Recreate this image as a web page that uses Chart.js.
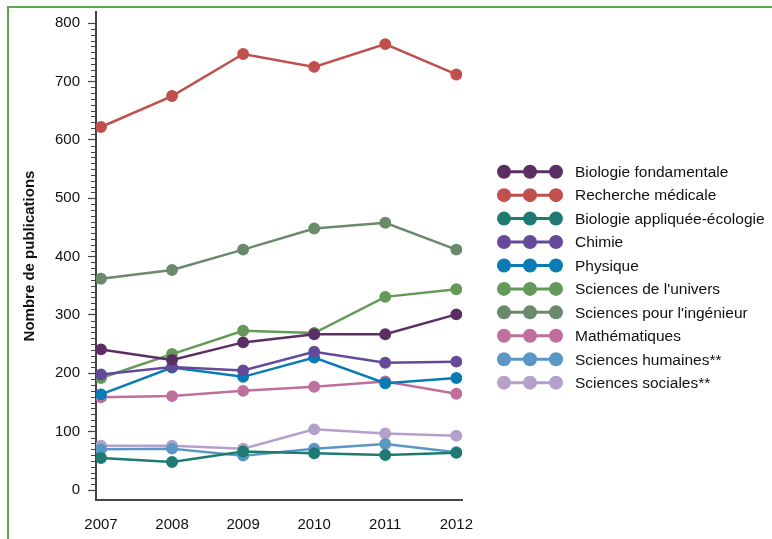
<!DOCTYPE html>
<html lang="fr">
<head>
<meta charset="UTF-8">
<title>Nombre de publications</title>
<script src="https://cdn.jsdelivr.net/npm/chart.js"></script>
<style>
    html, body {
        margin: 0;
        padding: 0;
        background: #ffffff;
        overflow: hidden;
    }
    .frame {
        position: absolute;
        left: 7px;
        top: 6px;
        width: 900px;
        height: 700px;
        border: 2px solid #55ad45;
    }
    .wrap {
        position: absolute;
        left: 0;
        top: 0;
        width: 772px;
        height: 539px;
    }
</style>
</head>
<body>
<div class="frame"></div>
<div class="wrap"><canvas id="chart" width="772" height="539"></canvas></div>

<script>
    const years = [2007, 2008, 2009, 2010, 2011, 2012];

    const seriesNames = [
        "Biologie fondamentale",
        "Recherche médicale",
        "Biologie appliquée-écologie",
        "Chimie",
        "Physique",
        "Sciences de l'univers",
        "Sciences pour l'ingénieur",
        "Mathématiques",
        "Sciences humaines**",
        "Sciences sociales**"
    ];

    const bioFondamentale = [241, 223, 253, 267, 267, 301];
    const rechercheMedicale = [622, 675, 747, 725, 764, 712];
    const bioAppliquee = [55, 48, 66, 63, 60, 64];
    const chimie = [198, 211, 205, 237, 218, 220];
    const physique = [164, 210, 194, 227, 183, 192];
    const sciencesUnivers = [192, 233, 273, 269, 331, 344];
    const sciencesIngenieur = [362, 377, 412, 448, 458, 412];
    const mathematiques = [159, 161, 170, 177, 186, 165];
    const sciencesHumaines = [70, 71, 59, 71, 79, 65];
    const sciencesSociales = [76, 76, 71, 104, 97, 93];

    const yTicks = [0, 100, 200, 300, 400, 500, 600, 700, 800];

    const seriesValues = [
        bioFondamentale, rechercheMedicale, bioAppliquee, chimie, physique,
        sciencesUnivers, sciencesIngenieur, mathematiques, sciencesHumaines, sciencesSociales
    ];

    const colors = [
        '#5b2f63', '#c0504d', '#1f7b72', '#654a9a', '#0a7bb3',
        '#64995a', '#6b8a6c', '#c06f9c', '#5b97c5', '#b3a1cb'
    ];

    const textColor = '#111111';
    const axisColor = '#444444';

    const datasets = seriesNames.map((name, i) => ({
        label: name,
        data: years.map((yr, j) => ({ x: yr, y: seriesValues[i][j] })),
        borderColor: colors[i],
        backgroundColor: colors[i],
        pointBackgroundColor: colors[i],
        pointBorderColor: colors[i],
        borderWidth: 2.5,
        pointRadius: 4.7,
        pointHoverRadius: 4.7,
        tension: 0,
        fill: false
    }));

    // minor ticks on the y axis, every 10
    const minorTicks = {
        id: 'minorTicks',
        afterDraw(chart) {
            const y = chart.scales.y;
            const ctx = chart.ctx;
            ctx.save();
            ctx.strokeStyle = axisColor;
            ctx.lineWidth = 1;
            for (let v = 10; v < 800; v += 10) {
                if (v % 100 === 0) continue;
                const py = Math.round(y.getPixelForValue(v)) + 0.5;
                ctx.beginPath();
                ctx.moveTo(y.right - 5, py);
                ctx.lineTo(y.right, py);
                ctx.stroke();
            }
            ctx.restore();
        }
    };

    // legend: line with three dots, then the label
    const sideLegend = {
        id: 'sideLegend',
        afterDraw(chart) {
            const ctx = chart.ctx;
            ctx.save();
            ctx.font = '15.5px "Liberation Sans", Arial, sans-serif';
            ctx.textBaseline = 'middle';
            ctx.textAlign = 'left';
            chart.data.datasets.forEach((ds, i) => {
                const cy = 171.7 + i * 23.44;
                ctx.strokeStyle = ds.borderColor;
                ctx.fillStyle = ds.borderColor;
                ctx.lineWidth = 3;
                ctx.beginPath();
                ctx.moveTo(504, cy);
                ctx.lineTo(556, cy);
                ctx.stroke();
                [504, 530, 556].forEach(cx => {
                    ctx.beginPath();
                    ctx.arc(cx, cy, 7, 0, Math.PI * 2);
                    ctx.fill();
                });
                ctx.fillStyle = textColor;
                ctx.fillText(ds.label, 575, cy + 1);
            });
            ctx.restore();
        }
    };

    new Chart(document.getElementById('chart'), {
        type: 'line',
        data: { datasets: datasets },
        options: {
            responsive: false,
            animation: false,
            layout: {
                padding: { left: 0, top: 12, right: 310, bottom: 0 }
            },
            plugins: {
                legend: { display: false },
                tooltip: { enabled: false }
            },
            scales: {
                x: {
                    type: 'linear',
                    min: 2006.93,
                    max: 2012.08,
                    afterBuildTicks: scale => {
                        scale.ticks = years.map(v => ({ value: v }));
                    },
                    afterFit: scale => {
                        scale.height = 39;
                        scale.paddingLeft = 0;
                        scale.paddingRight = 0;
                    },
                    grid: { display: true, drawOnChartArea: false, drawTicks: false, color: 'transparent' },
                    border: { display: true, color: axisColor, width: 2 },
                    ticks: {
                        color: textColor,
                        padding: 16,
                        maxRotation: 0,
                        font: { family: '"Liberation Sans", Arial, sans-serif', size: 15 },
                        callback: v => String(v)
                    }
                },
                y: {
                    type: 'linear',
                    min: -17,
                    max: 819,
                    afterBuildTicks: scale => {
                        scale.ticks = yTicks.map(v => ({ value: v }));
                    },
                    afterFit: scale => {
                        scale.width = 96;
                        scale.paddingTop = 0;
                        scale.paddingBottom = 0;
                    },
                    grid: { drawOnChartArea: false, drawTicks: true, tickLength: 8, color: axisColor, tickWidth: 1.2 },
                    border: { display: true, color: axisColor, width: 2 },
                    ticks: {
                        color: textColor,
                        padding: 8,
                        font: { family: '"Liberation Sans", Arial, sans-serif', size: 15 },
                        callback: v => String(v)
                    },
                    title: {
                        display: true,
                        text: 'Nombre de publications',
                        color: textColor,
                        padding: { top: 21, bottom: 0 },
                        font: { family: '"Liberation Sans", Arial, sans-serif', size: 15, weight: 'bold' }
                    }
                }
            }
        },
        plugins: [minorTicks, sideLegend]
    });
</script>
</body>
</html>
